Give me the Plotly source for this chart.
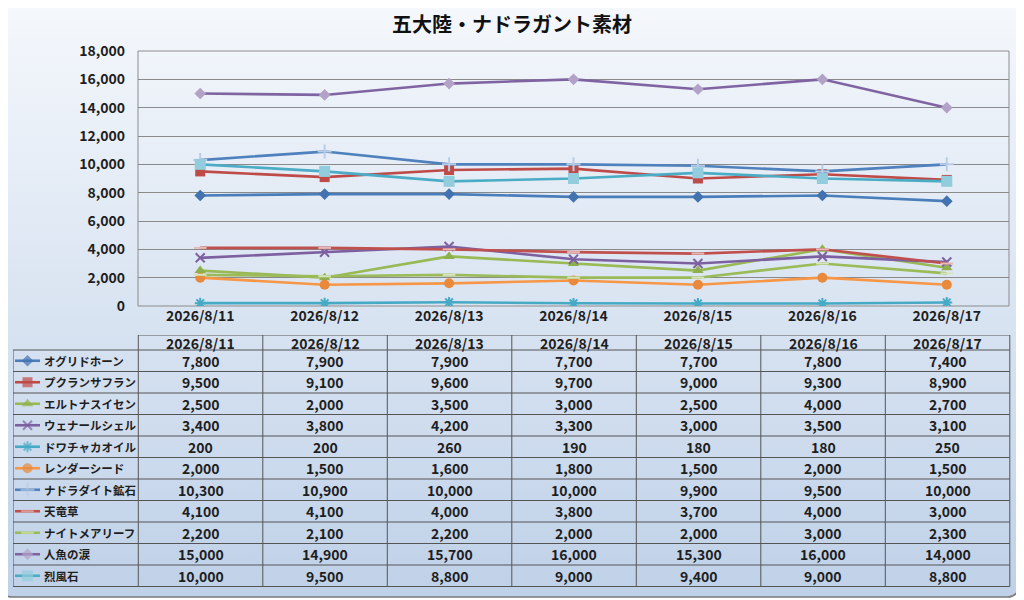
import base64

import plotly.graph_objects as go

# data
dates = ["2026/8/11", "2026/8/12", "2026/8/13", "2026/8/14", "2026/8/15", "2026/8/16", "2026/8/17"]
names = ["オグリドホーン", "プクランサフラン", "エルトナスイセン", "ウェナールシェル", "ドワチャカオイル",
         "レンダーシード", "ナドラダイト鉱石", "天竜草", "ナイトメアリーフ", "人魚の涙", "烈風石"]
ogurido = [7800, 7900, 7900, 7700, 7700, 7800, 7400]
pukuran = [9500, 9100, 9600, 9700, 9000, 9300, 8900]
erutona = [2500, 2000, 3500, 3000, 2500, 4000, 2700]
wenaru = [3400, 3800, 4200, 3300, 3000, 3500, 3100]
dowacha = [200, 200, 260, 190, 180, 180, 250]
render = [2000, 1500, 1600, 1800, 1500, 2000, 1500]
nadoradite = [10300, 10900, 10000, 10000, 9900, 9500, 10000]
tenryuso = [4100, 4100, 4000, 3800, 3700, 4000, 3000]
nightmare = [2200, 2100, 2200, 2000, 2000, 3000, 2300]
ningyo = [15000, 14900, 15700, 16000, 15300, 16000, 14000]
reppu = [10000, 9500, 8800, 9000, 9400, 9000, 8800]
values = [ogurido, pukuran, erutona, wenaru, dowacha, render, nadoradite, tenryuso, nightmare, ningyo, reppu]

# line colour, marker symbol, marker colour, marker size
styles = [
    ("#4A7EBB", "diamond", "#4272B0", 9),
    ("#BE4B48", "square", "#BE4B48", 10),
    ("#98B954", "triangle-up", "#8EB04C", 10),
    ("#7D60A0", "x-thin-open", "#7D60A0", 9),
    ("#46AAC5", "asterisk-open", "#46AAC5", 9),
    ("#F79646", "circle", "#E8893C", 10),
    ("#4F81BD", "cross-thin-open", "#B9CDE5", 10),
    ("#C0504D", "line-ew-open", "#E6B9B8", 9),
    ("#9BBB59", "line-ew-open", "#D7E4BD", 9),
    ("#8064A2", "diamond", "#B3A2C7", 9),
    ("#4BACC6", "square", "#93CDDD", 11),
]

FONT = "Noto Sans CJK JP"
# the page puts the figure 8px in from the top-left corner of the window
OX, OY = 8, 8
W, H = 1024 - OX, 600 - OY


def fx(p):
    return (p - OX) / W


def fy(p):
    return 1 - (p - OY) / H


# background: rounded frame with vertical gradient (window pixels shifted by the offset)
svg = (
    f'<svg xmlns="http://www.w3.org/2000/svg" width="{W}" height="{H}" viewBox="0 0 {W} {H}" '
    'preserveAspectRatio="none">'
    f'<defs><linearGradient id="g" gradientUnits="userSpaceOnUse" x1="0" y1="{1 - OY}" x2="0" y2="{597 - OY}">'
    '<stop offset="0" stop-color="#f5f8fc"/><stop offset="1" stop-color="#bfd1e8"/>'
    '</linearGradient></defs>'
    f'<rect x="{1 - OX}" y="{1 - OY}" width="1018" height="596" rx="11" ry="11" fill="url(#g)" '
    'stroke="#7a7a7a" stroke-width="1.6"/></svg>'
)
bg = "data:image/svg+xml;base64," + base64.b64encode(svg.encode()).decode()

fig = go.Figure()


def marker_style(sym, mcol, size):
    open_sym = sym.endswith("-open")
    return dict(symbol=sym, size=size, color=mcol,
                line=dict(color=mcol, width=2 if open_sym else 0))


for name, vals, (lc, sym, mc, ms) in zip(names, values, styles):
    fig.add_trace(go.Scatter(x=dates, y=vals, name=name, mode="lines+markers",
                             line=dict(color=lc, width=2.6), marker=marker_style(sym, mc, ms),
                             showlegend=False, hoverinfo="skip"))

# table geometry (window pixel units on helper axes)
col_edges = [138.3 + 124.5 * i for i in range(8)]
tab_left = 13
head_top = 335
row_top = 350
row_h = 21.5
row_edges = [row_top + row_h * k for k in range(12)]
tab_bottom = row_edges[-1]

shapes = []
line_style = dict(color="#555555", width=1)
shapes.append(dict(type="line", xref="x2", yref="y2", x0=col_edges[0], x1=col_edges[-1],
                   y0=head_top, y1=head_top, line=line_style))
for y in row_edges:
    shapes.append(dict(type="line", xref="x2", yref="y2", x0=tab_left, x1=col_edges[-1],
                       y0=y, y1=y, line=line_style))
shapes.append(dict(type="line", xref="x2", yref="y2", x0=tab_left, x1=tab_left,
                   y0=row_top, y1=tab_bottom, line=line_style))
for x in col_edges:
    shapes.append(dict(type="line", xref="x2", yref="y2", x0=x, x1=x,
                       y0=head_top, y1=tab_bottom, line=line_style))

# plot area frame
shapes.append(dict(type="rect", xref="paper", yref="paper",
                   x0=fx(138), x1=fx(1009), y0=fy(306), y1=fy(51),
                   line=dict(color="#8c8c8c", width=1), layer="below"))

annotations = []
tfont = dict(family=FONT, size=14, color="#1e1e1e", weight="bold")
nfont = dict(family=FONT, size=11.5, color="#1e1e1e", weight="bold")
for j, d in enumerate(dates):
    cx = (col_edges[j] + col_edges[j + 1]) / 2
    annotations.append(dict(xref="x2", yref="y2", x=cx, y=(head_top + row_top) / 2,
                            text=d, showarrow=False, font=tfont))
for i, (name, vals) in enumerate(zip(names, values)):
    cy = row_top + row_h * (i + 0.5)
    annotations.append(dict(xref="x2", yref="y2", x=42, y=cy, text=name, xanchor="left",
                            showarrow=False, font=nfont))
    for j, v in enumerate(vals):
        cx = (col_edges[j] + col_edges[j + 1]) / 2
        annotations.append(dict(xref="x2", yref="y2", x=cx, y=cy, text=f"{v:,}",
                                showarrow=False, font=tfont))

# legend keys in the first column
for i, (lc, sym, mc, ms) in enumerate(styles):
    cy = row_top + row_h * (i + 0.5)
    fig.add_trace(go.Scatter(x=[15, 27.5, 40], y=[cy] * 3, mode="lines+markers",
                             line=dict(color=lc, width=2.6), marker=marker_style(sym, mc, [0, ms, 0]),
                             xaxis="x2", yaxis="y2", showlegend=False, hoverinfo="skip"))

fig.update_layout(
    width=W, height=H, autosize=False,
    margin=dict(l=0, r=0, t=0, b=0, pad=0),
    paper_bgcolor="white",
    plot_bgcolor="white",
    title=dict(text="<b>五大陸・ナドラガント素材</b>", x=fx(512), xanchor="center",
               y=fy(25), yanchor="middle", font=dict(family=FONT, size=20, color="#111111")),
    xaxis=dict(domain=[fx(138), fx(1009)], type="category", range=[-0.5, 6.5],
               showgrid=False, showline=False, ticks="", automargin=False,
               tickfont=dict(family=FONT, size=14, color="#1e1e1e", weight="bold")),
    yaxis=dict(domain=[fy(306), fy(51)], range=[0, 18000], dtick=2000,
               tickformat=",d", showgrid=True, gridcolor="#8a8a8a", gridwidth=1,
               zeroline=False, showline=False, ticks="", ticklabelstandoff=12, automargin=False,
               tickfont=dict(family=FONT, size=14, color="#1e1e1e", weight="bold")),
    xaxis2=dict(domain=[fx(tab_left), fx(1012)], range=[tab_left, 1012], visible=False,
                fixedrange=True, automargin=False),
    yaxis2=dict(domain=[fy(592), fy(head_top)], range=[592, head_top], visible=False,
                fixedrange=True, automargin=False),
    shapes=shapes,
    annotations=annotations,
    images=[dict(source=bg, xref="paper", yref="paper", x=0, y=1, sizex=1, sizey=1,
                 xanchor="left", yanchor="top", sizing="stretch", layer="below")],
)

fig.write_html("out.html")
